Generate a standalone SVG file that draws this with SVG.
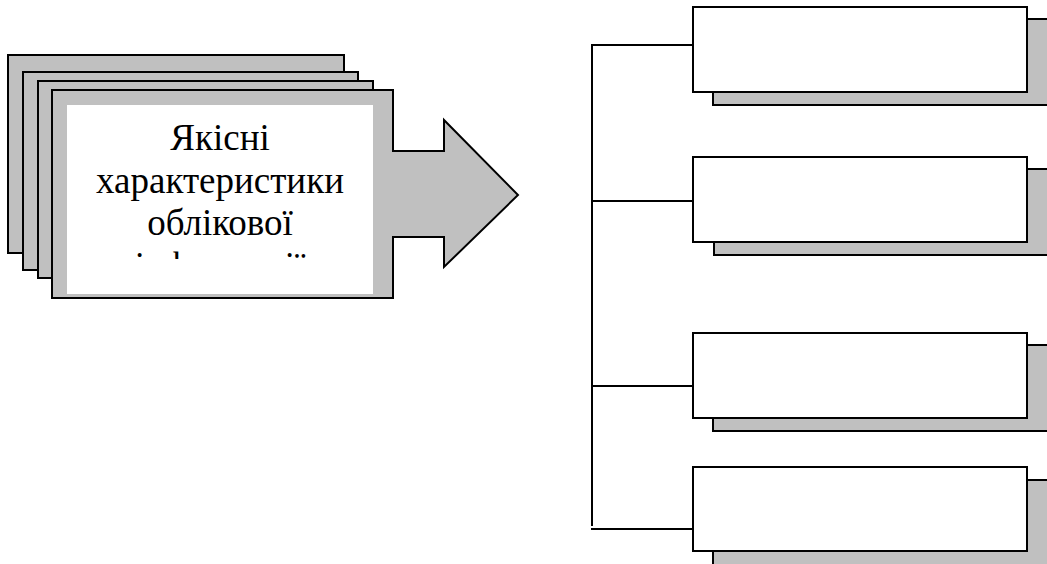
<svg xmlns="http://www.w3.org/2000/svg" width="1047" height="564" viewBox="0 0 1047 564">
  <style>
    .card { fill: #c0c0c0; stroke: #000; stroke-width: 2; }
    .panel { fill: #fff; stroke: #000; stroke-width: 2; }
    .shadow { fill: #c0c0c0; stroke: #000; stroke-width: 2; }
    .link { fill: none; stroke: #000; stroke-width: 2; }
    .title { font-family: "Liberation Serif", "Times New Roman", serif; font-size: 37px; fill: #000; text-anchor: middle; }
  </style>
  <defs>
    <clipPath id="titleClip">
      <rect x="67" y="105" width="306" height="154"/>
    </clipPath>
  </defs>
  <rect width="1047" height="564" fill="#fff"/>

  <!-- Stack of cards with the arrow pointing right -->
  <g id="source">
    <rect class="card" x="8" y="55" width="336" height="198"/>
    <rect class="card" x="23" y="72" width="335" height="198"/>
    <rect class="card" x="38" y="81" width="335" height="197"/>
    <path class="card" d="M52,90 H393 V151 H444 V120 L518,195 L444,267 V237 H393 V298 H52 Z"/>
    <rect x="67" y="105" width="306" height="189" fill="#fff"/>
    <g clip-path="url(#titleClip)">
      <text class="title" x="220" y="150">Якісні</text>
      <text class="title" x="220" y="192.5">характеристики</text>
      <text class="title" x="220" y="235">облікової</text>
      <text class="title" x="220" y="277.5">інформації</text>
    </g>
  </g>

  <!-- Bracket linking the four boxes -->
  <g id="connectors">
    <path class="link" d="M592,526 V45 H693"/>
    <path class="link" d="M592,201 H693"/>
    <path class="link" d="M592,386 H693"/>
    <path class="link" d="M591,529 H693"/>
  </g>

  <g id="box1">
    <rect class="shadow" x="713" y="19" width="340" height="86"/>
    <rect class="panel" x="693" y="7" width="334" height="85"/>
  </g>
  <g id="box2">
    <rect class="shadow" x="714" y="169" width="340" height="86"/>
    <rect class="panel" x="693" y="157" width="334" height="85"/>
  </g>
  <g id="box3">
    <rect class="shadow" x="713" y="345" width="340" height="86"/>
    <rect class="panel" x="693" y="333" width="334" height="85"/>
  </g>
  <g id="box4">
    <rect class="shadow" x="713" y="480" width="340" height="90"/>
    <rect class="panel" x="693" y="467" width="334" height="84"/>
  </g>
</svg>
